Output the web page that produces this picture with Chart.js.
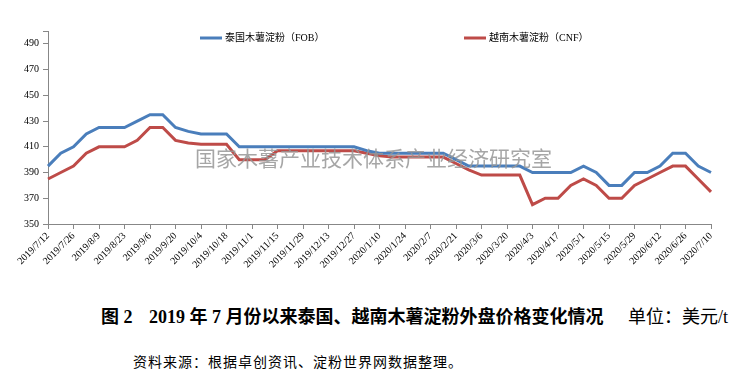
<!DOCTYPE html>
<html>
<head>
<meta charset="utf-8">
<script src="https://cdn.jsdelivr.net/npm/chart.js@4/dist/chart.umd.min.js"></script>
<style>
    body { margin: 0; background: #fff; }
    #wrap { position: relative; width: 756px; height: 384px; }
    #chartBox { position: absolute; left: 0; top: 0; width: 756px; height: 290px; }
    .cap { position: absolute; white-space: nowrap; color: #000; line-height: 1; }
    .cap1 { top: 302px; font: bold 18px "Liberation Serif", "Noto Sans CJK SC", serif; }
    .unit { font-weight: normal; }
    .cap2 { top: 351px; left: 133px; font: 14px "Liberation Serif", "Noto Sans CJK SC", serif; letter-spacing: 1px; }
</style>
</head>
<body>
<div id="wrap">
    <div id="chartBox"><canvas id="priceChart" width="756" height="290"></canvas></div>
    <div class="cap cap1" style="left:101px">图 2</div>
    <div class="cap cap1" style="left:149px">2019 年 7 月份以来泰国、越南木薯淀粉外盘价格变化情况</div>
    <div class="cap cap1 unit" style="left:628px">单位：美元/t</div>
    <div class="cap cap2">资料来源：根据卓创资讯、淀粉世界网数据整理。</div>
</div>
<script>
const weeks = [
    '2019/7/12', '2019/7/19', '2019/7/26', '2019/8/2', '2019/8/9', '2019/8/16', '2019/8/23', '2019/8/30',
    '2019/9/6', '2019/9/13', '2019/9/20', '2019/9/27', '2019/10/4', '2019/10/11', '2019/10/18', '2019/10/25',
    '2019/11/1', '2019/11/8', '2019/11/15', '2019/11/22', '2019/11/29', '2019/12/6', '2019/12/13', '2019/12/20',
    '2019/12/27', '2020/1/3', '2020/1/10', '2020/1/17', '2020/1/24', '2020/1/31', '2020/2/7', '2020/2/14',
    '2020/2/21', '2020/2/28', '2020/3/6', '2020/3/13', '2020/3/20', '2020/3/27', '2020/4/3', '2020/4/10',
    '2020/4/17', '2020/4/24', '2020/5/1', '2020/5/8', '2020/5/15', '2020/5/22', '2020/5/29', '2020/6/5',
    '2020/6/12', '2020/6/19', '2020/6/26', '2020/7/3', '2020/7/10'
];

// 泰国木薯淀粉（FOB）
const thaiFob = [
    395, 405, 410, 420, 425, 425, 425, 430, 435, 435, 425, 422, 420, 420, 420, 410,
    410, 410, 410, 410, 410, 410, 410, 410, 410, 407, 405, 405, 405, 405, 405, 405,
    400, 395, 395, 395, 395, 395, 390, 390, 390, 390, 395, 390, 380, 380, 390, 390,
    395, 405, 405, 395, 390
];

// 越南木薯淀粉（CNF）
const vietCnf = [
    385, 390, 395, 405, 410, 410, 410, 415, 425, 425, 415, 413, 412, 412, 412, 400,
    400, 400, 407, 407, 407, 407, 407, 407, 407, 405, 403, 402, 402, 402, 402, 402,
    397, 392, 388, 388, 388, 388, 365, 370, 370, 380, 385, 380, 370, 370, 380, 385,
    390, 395, 395, 385, 375
];

const yTicks = [350, 370, 390, 410, 430, 450, 470, 490];

const axisColor = '#878787';
const serif = '"Liberation Serif", "Noto Sans CJK SC", serif';

// 图例和水印直接画在绘图区里
const overlayPlugin = {
    id: 'overlay',
    afterDatasetsDraw(chart) {
        const ctx = chart.ctx;
        ctx.save();
        ctx.font = '21px "Noto Sans CJK SC", sans-serif';
        ctx.letterSpacing = '0px';
        ctx.fillStyle = 'rgba(150, 150, 150, 0.85)';
        ctx.textBaseline = 'middle';
        ctx.textAlign = 'left';
        ctx.fillText('国家木薯产业技术体系产业经济研究室', 195, 158);
        ctx.restore();
    },
    afterDraw(chart) {
        const ctx = chart.ctx;
        const spots = [200, 464];
        ctx.save();
        ctx.font = '10px ' + serif;
        ctx.textBaseline = 'middle';
        chart.data.datasets.forEach((ds, i) => {
            const x = spots[i];
            const y = 38;
            ctx.strokeStyle = ds.borderColor;
            ctx.lineWidth = 3;
            ctx.beginPath();
            ctx.moveTo(x, y);
            ctx.lineTo(x + 22, y);
            ctx.stroke();
            ctx.fillStyle = '#000';
            ctx.fillText(ds.label, x + 25, y);
        });
        ctx.restore();
    }
};

new Chart(document.getElementById('priceChart'), {
    type: 'line',
    data: {
        labels: weeks,
        datasets: [{
            label: '泰国木薯淀粉（FOB）',
            data: thaiFob,
            borderColor: '#4A7EBB',
            borderWidth: 3,
            pointRadius: 0,
            tension: 0,
            fill: false
        }, {
            label: '越南木薯淀粉（CNF）',
            data: vietCnf,
            borderColor: '#BE4B48',
            borderWidth: 3,
            pointRadius: 0,
            tension: 0,
            fill: false
        }]
    },
    options: {
        responsive: false,
        animation: false,
        layout: { padding: { left: 0, right: 45, top: 31, bottom: 0 } },
        plugins: {
            legend: { display: false },
            tooltip: { enabled: false }
        },
        scales: {
            x: {
                offset: false,
                grid: {
                    drawOnChartArea: false,
                    tickLength: 5,
                    tickColor: (c) => (c.index % 2 === 0 ? axisColor : 'rgba(0,0,0,0)')
                },
                border: { color: axisColor, width: 1 },
                ticks: {
                    autoSkip: false,
                    maxRotation: 45,
                    minRotation: 45,
                    padding: 1,
                    color: '#000',
                    font: { family: serif, size: 10 },
                    callback: function (val, idx) {
                        return idx % 2 === 0 ? weeks[idx] : '';
                    }
                },
                afterFit: (scale) => { scale.height = 66; }
            },
            y: {
                min: 350,
                max: 500,
                afterBuildTicks: (scale) => {
                    scale.ticks = yTicks.concat([500]).map(v => ({ value: v }));
                },
                grid: {
                    drawOnChartArea: false,
                    tickLength: 5,
                    tickColor: axisColor
                },
                border: { color: axisColor, width: 1 },
                ticks: {
                    padding: 4,
                    color: '#000',
                    font: { family: serif, size: 10 },
                    callback: (v) => (yTicks.includes(v) ? v : '')
                },
                afterFit: (scale) => { scale.width = 48; }
            }
        }
    },
    plugins: [overlayPlugin]
});
</script>
</body>
</html>
